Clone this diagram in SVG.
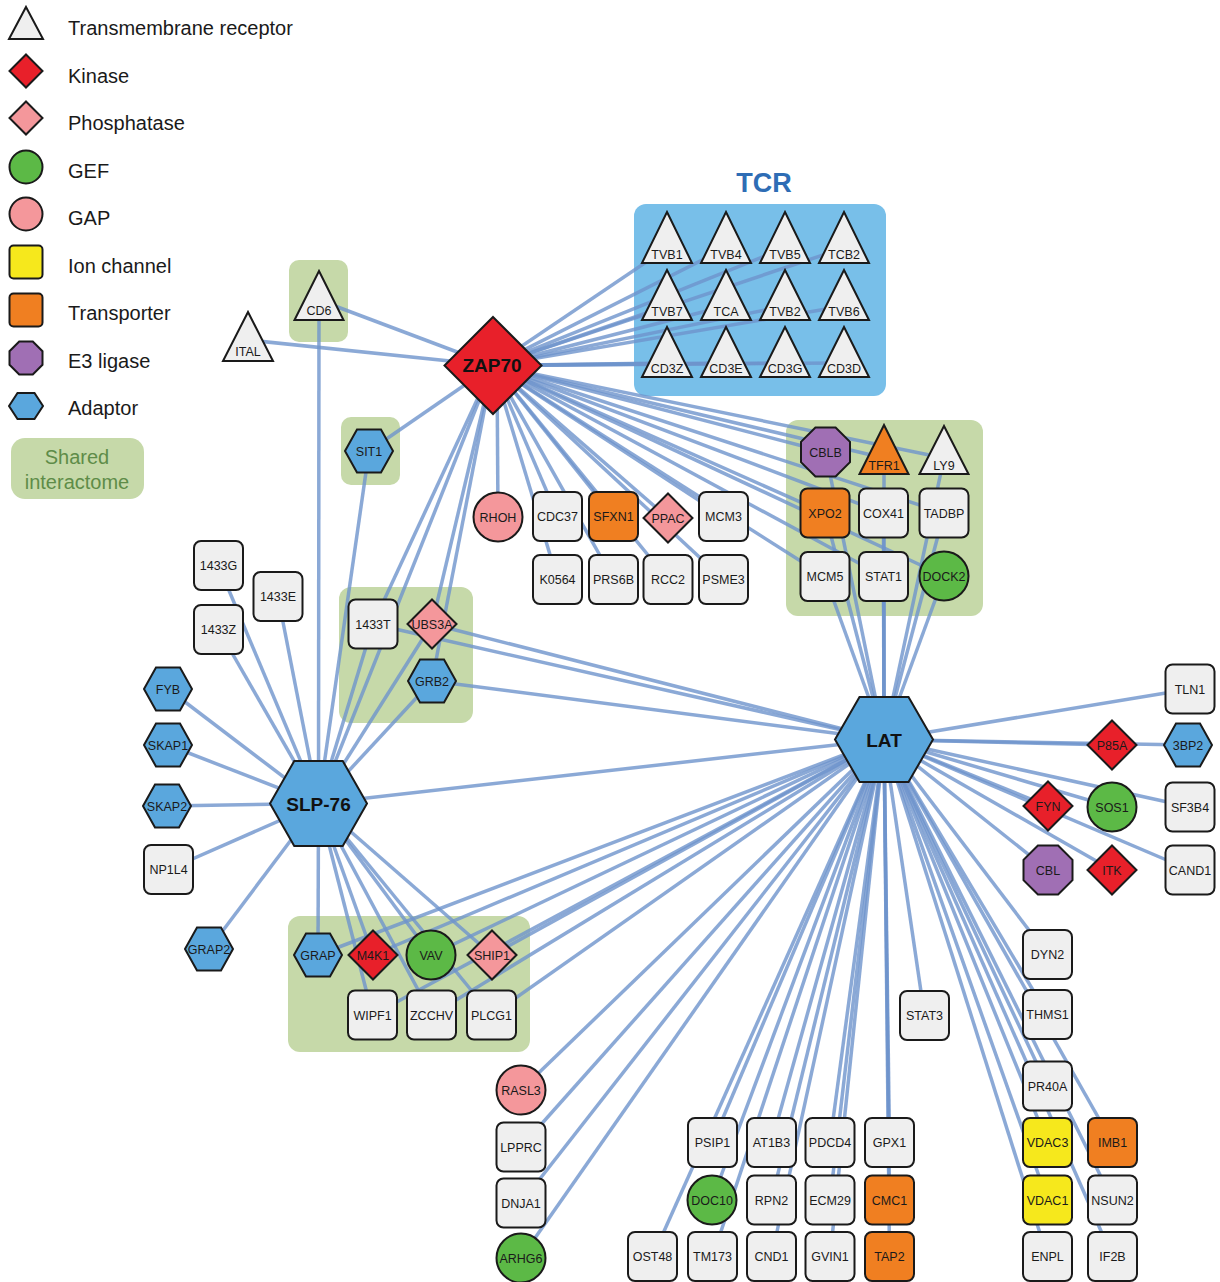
<svg xmlns="http://www.w3.org/2000/svg" width="1220" height="1282" viewBox="0 0 1220 1282">
<style>
.e{stroke:#6e94cc;stroke-width:3.5;stroke-opacity:0.8;fill:none}
.s{stroke:#1a1a1a;stroke-width:2}
.bx{fill:#efefef}
.kin{fill:#e8202a}
.pho{fill:#f4979b}
.gef{fill:#5cb946}
.gap{fill:#f4979b}
.ion{fill:#f6e81c}
.tra{fill:#f07f21}
.e3{fill:#a06fb4}
.ad{fill:#5aa7dd}
.tri{fill:#efefef}
.sh{fill:#c6d9a9}
.t{font-family:"Liberation Sans",Arial,sans-serif;font-size:12.5px;text-anchor:middle;fill:#1a1a1a}
.big{font-family:"Liberation Sans",Arial,sans-serif;font-size:19px;font-weight:bold;text-anchor:middle;fill:#111}
.lg{font-family:"Liberation Sans",Arial,sans-serif;font-size:20px;fill:#1a1a1a}
</style>

<g id="legend">
<polygon class="tri s" points="26,7 43,39 9,39"/>
<text class="lg" x="68" y="35">Transmembrane receptor</text>
<polygon class="kin s" points="26,54.5 42.5,71 26,87.5 9.5,71"/>
<text class="lg" x="68" y="82.5">Kinase</text>
<polygon class="pho s" points="26,101.5 42.5,118 26,134.5 9.5,118"/>
<text class="lg" x="68" y="130">Phosphatase</text>
<circle class="gef s" cx="26" cy="167" r="16.5"/>
<text class="lg" x="68" y="177.5">GEF</text>
<circle class="gap s" cx="26" cy="214" r="16.5"/>
<text class="lg" x="68" y="225">GAP</text>
<rect class="ion s" x="9.5" y="245.5" width="33" height="33" rx="4"/>
<text class="lg" x="68" y="272.5">Ion channel</text>
<rect class="tra s" x="9.5" y="293.5" width="33" height="33" rx="4"/>
<text class="lg" x="68" y="320">Transporter</text>
<polygon class="e3 s" points="19.2,341.5 32.8,341.5 42.5,351.2 42.5,364.8 32.8,374.5 19.2,374.5 9.5,364.8 9.5,351.2"/>
<text class="lg" x="68" y="367.5">E3 ligase</text>
<polygon class="ad s" points="9,406 17.5,393 34.5,393 43,406 34.5,419 17.5,419"/>
<text class="lg" x="68" y="415">Adaptor</text>
<rect class="sh" x="11" y="438" width="133" height="61" rx="14"/>
<text class="lg" x="77" y="464" text-anchor="middle" fill="#5e8c48" style="fill:#5e8c48">Shared</text>
<text class="lg" x="77" y="488.5" text-anchor="middle" style="fill:#5e8c48">interactome</text>
</g>

<g id="backgrounds">
<text x="764" y="192" font-family="Liberation Sans, Arial, sans-serif" font-size="27" font-weight="bold" fill="#2e6db5" text-anchor="middle">TCR</text>
<rect id="tcr-box" x="634" y="204" width="252" height="192" rx="12" fill="#78bfe9"/>
<rect class="sh" x="289" y="260" width="59" height="82" rx="10"/>
<rect class="sh" x="341" y="417" width="59" height="68" rx="10"/>
<rect class="sh" x="339" y="587" width="134" height="136" rx="12"/>
<rect class="sh" x="786" y="420" width="197" height="196" rx="12"/>
<rect class="sh" x="288" y="916" width="242" height="136" rx="12"/>
</g>

<g id="connectors">
<!-- ZAP70 -->
<line class="e" x1="493" y1="365.5" x2="667" y2="248"/>
<line class="e" x1="493" y1="365.5" x2="726" y2="248"/>
<line class="e" x1="493" y1="365.5" x2="785" y2="248"/>
<line class="e" x1="493" y1="365.5" x2="844" y2="248"/>
<line class="e" x1="493" y1="365.5" x2="667" y2="306"/>
<line class="e" x1="493" y1="365.5" x2="726" y2="306"/>
<line class="e" x1="493" y1="365.5" x2="785" y2="306"/>
<line class="e" x1="493" y1="365.5" x2="844" y2="306"/>
<line class="e" x1="493" y1="365.5" x2="667" y2="363"/>
<line class="e" x1="493" y1="365.5" x2="726" y2="363"/>
<line class="e" x1="493" y1="365.5" x2="785" y2="363"/>
<line class="e" x1="493" y1="365.5" x2="844" y2="363"/>
<line class="e" x1="493" y1="365.5" x2="319" y2="300"/>
<line class="e" x1="493" y1="365.5" x2="248" y2="340"/>
<line class="e" x1="493" y1="365.5" x2="369" y2="451"/>
<line class="e" x1="497" y1="365.5" x2="498" y2="517"/>
<line class="e" x1="493" y1="365.5" x2="557.5" y2="516.5"/>
<line class="e" x1="493" y1="365.5" x2="557.5" y2="579.5"/>
<line class="e" x1="493" y1="365.5" x2="613.5" y2="516.5"/>
<line class="e" x1="493" y1="365.5" x2="613.5" y2="579.5"/>
<line class="e" x1="493" y1="365.5" x2="668" y2="518"/>
<line class="e" x1="493" y1="365.5" x2="668" y2="579.5"/>
<line class="e" x1="493" y1="365.5" x2="723.5" y2="516.5"/>
<line class="e" x1="493" y1="365.5" x2="723.5" y2="579.5"/>
<line class="e" x1="493" y1="365.5" x2="825.5" y2="452"/>
<line class="e" x1="493" y1="365.5" x2="884" y2="458"/>
<line class="e" x1="493" y1="365.5" x2="944" y2="458"/>
<line class="e" x1="493" y1="365.5" x2="825" y2="513"/>
<line class="e" x1="493" y1="365.5" x2="883.5" y2="513"/>
<line class="e" x1="493" y1="365.5" x2="944" y2="513"/>
<line class="e" x1="493" y1="365.5" x2="825" y2="576.5"/>
<line class="e" x1="493" y1="365.5" x2="883.5" y2="576.5"/>
<line class="e" x1="493" y1="365.5" x2="944" y2="576"/>
<line class="e" x1="493" y1="365.5" x2="373" y2="624"/>
<line class="e" x1="493" y1="365.5" x2="432" y2="624"/>
<line class="e" x1="493" y1="365.5" x2="432" y2="681"/>
<line class="e" x1="493" y1="365.5" x2="318.5" y2="803.5"/>
<!-- SLP-76 -->
<line class="e" x1="318.5" y1="803.5" x2="319" y2="300"/>
<line class="e" x1="318.5" y1="803.5" x2="369" y2="451"/>
<line class="e" x1="318.5" y1="803.5" x2="218.5" y2="565.5"/>
<line class="e" x1="318.5" y1="803.5" x2="278" y2="596.5"/>
<line class="e" x1="318.5" y1="803.5" x2="218.5" y2="629.5"/>
<line class="e" x1="318.5" y1="803.5" x2="168" y2="689"/>
<line class="e" x1="318.5" y1="803.5" x2="168" y2="745"/>
<line class="e" x1="318.5" y1="803.5" x2="167" y2="806"/>
<line class="e" x1="318.5" y1="803.5" x2="168.5" y2="869.5"/>
<line class="e" x1="318.5" y1="803.5" x2="209" y2="949"/>
<line class="e" x1="318.5" y1="803.5" x2="373" y2="624"/>
<line class="e" x1="318.5" y1="803.5" x2="432" y2="624"/>
<line class="e" x1="318.5" y1="803.5" x2="432" y2="681"/>
<line class="e" x1="318.5" y1="803.5" x2="884" y2="739.5"/>
<line class="e" x1="318.5" y1="803.5" x2="318" y2="955"/>
<line class="e" x1="318.5" y1="803.5" x2="373" y2="955"/>
<line class="e" x1="318.5" y1="803.5" x2="431" y2="955"/>
<line class="e" x1="318.5" y1="803.5" x2="492" y2="955"/>
<line class="e" x1="318.5" y1="803.5" x2="372.5" y2="1015"/>
<line class="e" x1="318.5" y1="803.5" x2="431.5" y2="1015"/>
<line class="e" x1="318.5" y1="803.5" x2="491.5" y2="1015"/>
<!-- LAT -->
<line class="e" x1="884" y1="739.5" x2="825.5" y2="452"/>
<line class="e" x1="884" y1="739.5" x2="884" y2="458"/>
<line class="e" x1="884" y1="739.5" x2="944" y2="458"/>
<line class="e" x1="884" y1="739.5" x2="825" y2="513"/>
<line class="e" x1="884" y1="739.5" x2="883.5" y2="513"/>
<line class="e" x1="884" y1="739.5" x2="944" y2="513"/>
<line class="e" x1="884" y1="739.5" x2="825" y2="576.5"/>
<line class="e" x1="884" y1="739.5" x2="883.5" y2="576.5"/>
<line class="e" x1="884" y1="739.5" x2="944" y2="576"/>
<line class="e" x1="884" y1="739.5" x2="373" y2="624"/>
<line class="e" x1="884" y1="739.5" x2="432" y2="624"/>
<line class="e" x1="884" y1="739.5" x2="432" y2="681"/>
<line class="e" x1="884" y1="739.5" x2="318" y2="955"/>
<line class="e" x1="884" y1="739.5" x2="373" y2="955"/>
<line class="e" x1="884" y1="739.5" x2="431" y2="955"/>
<line class="e" x1="884" y1="739.5" x2="492" y2="955"/>
<line class="e" x1="884" y1="739.5" x2="372.5" y2="1015"/>
<line class="e" x1="884" y1="739.5" x2="431.5" y2="1015"/>
<line class="e" x1="884" y1="739.5" x2="491.5" y2="1015"/>
<line class="e" x1="884" y1="739.5" x2="521" y2="1090"/>
<line class="e" x1="884" y1="739.5" x2="521" y2="1147"/>
<line class="e" x1="884" y1="739.5" x2="521" y2="1203"/>
<line class="e" x1="884" y1="739.5" x2="521" y2="1258"/>
<line class="e" x1="884" y1="739.5" x2="652.5" y2="1257"/>
<line class="e" x1="884" y1="739.5" x2="712.5" y2="1142.5"/>
<line class="e" x1="884" y1="739.5" x2="712" y2="1200"/>
<line class="e" x1="884" y1="739.5" x2="712.5" y2="1257"/>
<line class="e" x1="884" y1="739.5" x2="771.5" y2="1142.5"/>
<line class="e" x1="884" y1="739.5" x2="771.5" y2="1200"/>
<line class="e" x1="884" y1="739.5" x2="771.5" y2="1257"/>
<line class="e" x1="884" y1="739.5" x2="830" y2="1142.5"/>
<line class="e" x1="884" y1="739.5" x2="830" y2="1200"/>
<line class="e" x1="884" y1="739.5" x2="830" y2="1257"/>
<line class="e" x1="884" y1="739.5" x2="889.5" y2="1142.5"/>
<line class="e" x1="884" y1="739.5" x2="889.5" y2="1200"/>
<line class="e" x1="884" y1="739.5" x2="889.5" y2="1257"/>
<line class="e" x1="884" y1="739.5" x2="924.5" y2="1015.5"/>
<line class="e" x1="884" y1="739.5" x2="1047.5" y2="954.5"/>
<line class="e" x1="884" y1="739.5" x2="1047.5" y2="1014.5"/>
<line class="e" x1="884" y1="739.5" x2="1047.5" y2="1086"/>
<line class="e" x1="884" y1="739.5" x2="1047.5" y2="1142.5"/>
<line class="e" x1="884" y1="739.5" x2="1047.5" y2="1200"/>
<line class="e" x1="884" y1="739.5" x2="1047.5" y2="1257"/>
<line class="e" x1="884" y1="739.5" x2="1112.5" y2="1142.5"/>
<line class="e" x1="884" y1="739.5" x2="1112.5" y2="1200"/>
<line class="e" x1="884" y1="739.5" x2="1112.5" y2="1257"/>
<line class="e" x1="884" y1="739.5" x2="1190" y2="689"/>
<line class="e" x1="884" y1="739.5" x2="1112" y2="745"/>
<line class="e" x1="884" y1="739.5" x2="1188" y2="745"/>
<line class="e" x1="884" y1="739.5" x2="1048" y2="806"/>
<line class="e" x1="884" y1="739.5" x2="1112" y2="807"/>
<line class="e" x1="884" y1="739.5" x2="1190" y2="807"/>
<line class="e" x1="884" y1="739.5" x2="1048" y2="870"/>
<line class="e" x1="884" y1="739.5" x2="1112" y2="870"/>
<line class="e" x1="884" y1="739.5" x2="1190" y2="870"/>
</g>

<g id="tcr-nodes">
<g id="n-TVB1"><polygon class="tri s" points="667,212 692,263 642,263"/><text class="t" x="667" y="259">TVB1</text></g>
<g id="n-TVB4"><polygon class="tri s" points="726,212 751,263 701,263"/><text class="t" x="726" y="259">TVB4</text></g>
<g id="n-TVB5"><polygon class="tri s" points="785,212 810,263 760,263"/><text class="t" x="785" y="259">TVB5</text></g>
<g id="n-TCB2"><polygon class="tri s" points="844,212 869,263 819,263"/><text class="t" x="844" y="259">TCB2</text></g>
<g id="n-TVB7"><polygon class="tri s" points="667,270 692,320 642,320"/><text class="t" x="667" y="316">TVB7</text></g>
<g id="n-TCA"><polygon class="tri s" points="726,270 751,320 701,320"/><text class="t" x="726" y="316">TCA</text></g>
<g id="n-TVB2"><polygon class="tri s" points="785,270 810,320 760,320"/><text class="t" x="785" y="316">TVB2</text></g>
<g id="n-TVB6"><polygon class="tri s" points="844,270 869,320 819,320"/><text class="t" x="844" y="316">TVB6</text></g>
<g id="n-CD3Z"><polygon class="tri s" points="667,327 692,377 642,377"/><text class="t" x="667" y="373">CD3Z</text></g>
<g id="n-CD3E"><polygon class="tri s" points="726,327 751,377 701,377"/><text class="t" x="726" y="373">CD3E</text></g>
<g id="n-CD3G"><polygon class="tri s" points="785,327 810,377 760,377"/><text class="t" x="785" y="373">CD3G</text></g>
<g id="n-CD3D"><polygon class="tri s" points="844,327 869,377 819,377"/><text class="t" x="844" y="373">CD3D</text></g>
</g>

<g id="nodes">
<g id="n-CD6"><polygon class="tri s" points="319,271 343.5,320 294.5,320"/><text class="t" x="319" y="315">CD6</text></g>
<g id="n-ITAL"><polygon class="tri s" points="248,312 273,361 223,361"/><text class="t" x="248" y="356">ITAL</text></g>
<g id="n-SIT1"><polygon class="ad s" points="345,451 357,429.5 381,429.5 393,451 381,472.5 357,472.5"/><text class="t" x="369" y="455.5">SIT1</text></g>
<g id="n-ZAP70"><polygon class="kin s" points="493,317 541.5,365.5 493,414 444.5,365.5"/><text class="big" x="492" y="372">ZAP70</text></g>

<g id="n-RHOH"><circle class="gap s" cx="498" cy="517" r="24.5"/><text class="t" x="498" y="521.5">RHOH</text></g>
<g id="n-CDC37"><rect class="bx s" x="533" y="492" width="49" height="49" rx="7"/><text class="t" x="557.5" y="521">CDC37</text></g>
<g id="n-SFXN1"><rect class="tra s" x="589" y="492" width="49" height="49" rx="7"/><text class="t" x="613.5" y="521">SFXN1</text></g>
<g id="n-PPAC"><polygon class="pho s" points="668,493.5 692.5,518 668,542.5 643.5,518"/><text class="t" x="668" y="522.5">PPAC</text></g>
<g id="n-MCM3"><rect class="bx s" x="699" y="492" width="49" height="49" rx="7"/><text class="t" x="723.5" y="521">MCM3</text></g>
<g id="n-K0564"><rect class="bx s" x="533" y="555" width="49" height="49" rx="7"/><text class="t" x="557.5" y="584">K0564</text></g>
<g id="n-PRS6B"><rect class="bx s" x="589" y="555" width="49" height="49" rx="7"/><text class="t" x="613.5" y="584">PRS6B</text></g>
<g id="n-RCC2"><rect class="bx s" x="643.5" y="555" width="49" height="49" rx="7"/><text class="t" x="668" y="584">RCC2</text></g>
<g id="n-PSME3"><rect class="bx s" x="699" y="555" width="49" height="49" rx="7"/><text class="t" x="723.5" y="584">PSME3</text></g>

<g id="n-CBLB"><polygon class="e3 s" points="815.4,427.5 835.6,427.5 850,441.9 850,462.1 835.6,476.5 815.4,476.5 801,462.1 801,441.9"/><text class="t" x="825.5" y="456.5">CBLB</text></g>
<g id="n-TFR1"><polygon class="tra s" points="884,425 908.5,474 859.5,474"/><text class="t" x="884" y="470">TFR1</text></g>
<g id="n-LY9"><polygon class="tri s" points="944,426 968.5,474 919.5,474"/><text class="t" x="944" y="470">LY9</text></g>
<g id="n-XPO2"><rect class="tra s" x="800.5" y="488.5" width="49" height="49" rx="7"/><text class="t" x="825" y="517.5">XPO2</text></g>
<g id="n-COX41"><rect class="bx s" x="859" y="488.5" width="49" height="49" rx="7"/><text class="t" x="883.5" y="517.5">COX41</text></g>
<g id="n-TADBP"><rect class="bx s" x="919.5" y="488.5" width="49" height="49" rx="7"/><text class="t" x="944" y="517.5">TADBP</text></g>
<g id="n-MCM5"><rect class="bx s" x="800.5" y="552" width="49" height="49" rx="7"/><text class="t" x="825" y="581">MCM5</text></g>
<g id="n-STAT1"><rect class="bx s" x="859" y="552" width="49" height="49" rx="7"/><text class="t" x="883.5" y="581">STAT1</text></g>
<g id="n-DOCK2"><circle class="gef s" cx="944" cy="576" r="24.5"/><text class="t" x="944" y="580.5">DOCK2</text></g>

<g id="n-1433G"><rect class="bx s" x="194" y="541" width="49" height="49" rx="7"/><text class="t" x="218.5" y="570">1433G</text></g>
<g id="n-1433E"><rect class="bx s" x="253.5" y="572" width="49" height="49" rx="7"/><text class="t" x="278" y="601">1433E</text></g>
<g id="n-1433Z"><rect class="bx s" x="194" y="605" width="49" height="49" rx="7"/><text class="t" x="218.5" y="634">1433Z</text></g>
<g id="n-1433T"><rect class="bx s" x="348.5" y="599.5" width="49" height="49" rx="7"/><text class="t" x="373" y="628.5">1433T</text></g>
<g id="n-UBS3A"><polygon class="pho s" points="432,599.5 456.5,624 432,648.5 407.5,624"/><text class="t" x="432" y="628.5">UBS3A</text></g>
<g id="n-GRB2"><polygon class="ad s" points="408,681 420,659.5 444,659.5 456,681 444,702.5 420,702.5"/><text class="t" x="432" y="685.5">GRB2</text></g>
<g id="n-FYB"><polygon class="ad s" points="144,689 156,667.5 180,667.5 192,689 180,710.5 156,710.5"/><text class="t" x="168" y="693.5">FYB</text></g>
<g id="n-SKAP1"><polygon class="ad s" points="144,745 156,723.5 180,723.5 192,745 180,766.5 156,766.5"/><text class="t" x="168" y="749.5">SKAP1</text></g>
<g id="n-SKAP2"><polygon class="ad s" points="143,806 155,784.5 179,784.5 191,806 179,827.5 155,827.5"/><text class="t" x="167" y="810.5">SKAP2</text></g>
<g id="n-NP1L4"><rect class="bx s" x="144" y="845" width="49" height="49" rx="7"/><text class="t" x="168.5" y="874">NP1L4</text></g>
<g id="n-GRAP2"><polygon class="ad s" points="185,949 197,927.5 221,927.5 233,949 221,970.5 197,970.5"/><text class="t" x="209" y="953.5">GRAP2</text></g>
<g id="n-SLP76"><polygon class="ad s" points="270,803.5 294.25,761 342.75,761 367,803.5 342.75,846 294.25,846"/><text class="big" x="318.5" y="810.5">SLP-76</text></g>

<g id="n-GRAP"><polygon class="ad s" points="294,955 306,933.5 330,933.5 342,955 330,976.5 306,976.5"/><text class="t" x="318" y="959.5">GRAP</text></g>
<g id="n-M4K1"><polygon class="kin s" points="373,930.5 397.5,955 373,979.5 348.5,955"/><text class="t" x="373" y="959.5">M4K1</text></g>
<g id="n-VAV"><circle class="gef s" cx="431" cy="955" r="24.5"/><text class="t" x="431" y="959.5">VAV</text></g>
<g id="n-SHIP1"><polygon class="pho s" points="492,930.5 516.5,955 492,979.5 467.5,955"/><text class="t" x="492" y="959.5">SHIP1</text></g>
<g id="n-WIPF1"><rect class="bx s" x="348" y="990.5" width="49" height="49" rx="7"/><text class="t" x="372.5" y="1019.5">WIPF1</text></g>
<g id="n-ZCCHV"><rect class="bx s" x="407" y="990.5" width="49" height="49" rx="7"/><text class="t" x="431.5" y="1019.5">ZCCHV</text></g>
<g id="n-PLCG1"><rect class="bx s" x="467" y="990.5" width="49" height="49" rx="7"/><text class="t" x="491.5" y="1019.5">PLCG1</text></g>
<g id="n-RASL3"><circle class="gap s" cx="521" cy="1090" r="24.5"/><text class="t" x="521" y="1094.5">RASL3</text></g>
<g id="n-LPPRC"><rect class="bx s" x="496.5" y="1122.5" width="49" height="49" rx="7"/><text class="t" x="521" y="1151.5">LPPRC</text></g>
<g id="n-DNJA1"><rect class="bx s" x="496.5" y="1178.5" width="49" height="49" rx="7"/><text class="t" x="521" y="1207.5">DNJA1</text></g>
<g id="n-ARHG6"><circle class="gef s" cx="521" cy="1258" r="24.5"/><text class="t" x="521" y="1262.5">ARHG6</text></g>

<g id="n-LAT"><polygon class="ad s" points="835,739.5 859.5,697 908.5,697 933,739.5 908.5,782 859.5,782"/><text class="big" x="884" y="746.5">LAT</text></g>

<g id="n-TLN1"><rect class="bx s" x="1165.5" y="664.5" width="49" height="49" rx="7"/><text class="t" x="1190" y="693.5">TLN1</text></g>
<g id="n-P85A"><polygon class="kin s" points="1112,720.5 1136.5,745 1112,769.5 1087.5,745"/><text class="t" x="1112" y="749.5">P85A</text></g>
<g id="n-3BP2"><polygon class="ad s" points="1164,745 1176,723.5 1200,723.5 1212,745 1200,766.5 1176,766.5"/><text class="t" x="1188" y="749.5">3BP2</text></g>
<g id="n-FYN"><polygon class="kin s" points="1048,781.5 1072.5,806 1048,830.5 1023.5,806"/><text class="t" x="1048" y="810.5">FYN</text></g>
<g id="n-SOS1"><circle class="gef s" cx="1112" cy="807" r="24.5"/><text class="t" x="1112" y="811.5">SOS1</text></g>
<g id="n-SF3B4"><rect class="bx s" x="1165.5" y="782.5" width="49" height="49" rx="7"/><text class="t" x="1190" y="811.5">SF3B4</text></g>
<g id="n-CBL"><polygon class="e3 s" points="1037.9,845.5 1058.1,845.5 1072.5,859.9 1072.5,880.1 1058.1,894.5 1037.9,894.5 1023.5,880.1 1023.5,859.9"/><text class="t" x="1048" y="874.5">CBL</text></g>
<g id="n-ITK"><polygon class="kin s" points="1112,845.5 1136.5,870 1112,894.5 1087.5,870"/><text class="t" x="1112" y="874.5">ITK</text></g>
<g id="n-CAND1"><rect class="bx s" x="1165.5" y="845.5" width="49" height="49" rx="7"/><text class="t" x="1190" y="874.5">CAND1</text></g>

<g id="n-STAT3"><rect class="bx s" x="900" y="991" width="49" height="49" rx="7"/><text class="t" x="924.5" y="1020">STAT3</text></g>

<g id="n-PSIP1"><rect class="bx s" x="688" y="1118" width="49" height="49" rx="7"/><text class="t" x="712.5" y="1147">PSIP1</text></g>
<g id="n-AT1B3"><rect class="bx s" x="747" y="1118" width="49" height="49" rx="7"/><text class="t" x="771.5" y="1147">AT1B3</text></g>
<g id="n-PDCD4"><rect class="bx s" x="805.5" y="1118" width="49" height="49" rx="7"/><text class="t" x="830" y="1147">PDCD4</text></g>
<g id="n-GPX1"><rect class="bx s" x="865" y="1118" width="49" height="49" rx="7"/><text class="t" x="889.5" y="1147">GPX1</text></g>
<g id="n-DOC10"><circle class="gef s" cx="712" cy="1200" r="24.5"/><text class="t" x="712" y="1204.5">DOC10</text></g>
<g id="n-RPN2"><rect class="bx s" x="747" y="1175.5" width="49" height="49" rx="7"/><text class="t" x="771.5" y="1204.5">RPN2</text></g>
<g id="n-ECM29"><rect class="bx s" x="805.5" y="1175.5" width="49" height="49" rx="7"/><text class="t" x="830" y="1204.5">ECM29</text></g>
<g id="n-CMC1"><rect class="tra s" x="865" y="1175.5" width="49" height="49" rx="7"/><text class="t" x="889.5" y="1204.5">CMC1</text></g>
<g id="n-OST48"><rect class="bx s" x="628" y="1232" width="49" height="49" rx="7"/><text class="t" x="652.5" y="1261">OST48</text></g>
<g id="n-TM173"><rect class="bx s" x="688" y="1232" width="49" height="49" rx="7"/><text class="t" x="712.5" y="1261">TM173</text></g>
<g id="n-CND1"><rect class="bx s" x="747" y="1232" width="49" height="49" rx="7"/><text class="t" x="771.5" y="1261">CND1</text></g>
<g id="n-GVIN1"><rect class="bx s" x="805.5" y="1232" width="49" height="49" rx="7"/><text class="t" x="830" y="1261">GVIN1</text></g>
<g id="n-TAP2"><rect class="tra s" x="865" y="1232" width="49" height="49" rx="7"/><text class="t" x="889.5" y="1261">TAP2</text></g>

<g id="n-DYN2"><rect class="bx s" x="1023" y="930" width="49" height="49" rx="7"/><text class="t" x="1047.5" y="959">DYN2</text></g>
<g id="n-THMS1"><rect class="bx s" x="1023" y="990" width="49" height="49" rx="7"/><text class="t" x="1047.5" y="1019">THMS1</text></g>
<g id="n-PR40A"><rect class="bx s" x="1023" y="1061.5" width="49" height="49" rx="7"/><text class="t" x="1047.5" y="1090.5">PR40A</text></g>
<g id="n-VDAC3"><rect class="ion s" x="1023" y="1118" width="49" height="49" rx="7"/><text class="t" x="1047.5" y="1147">VDAC3</text></g>
<g id="n-IMB1"><rect class="tra s" x="1088" y="1118" width="49" height="49" rx="7"/><text class="t" x="1112.5" y="1147">IMB1</text></g>
<g id="n-VDAC1"><rect class="ion s" x="1023" y="1175.5" width="49" height="49" rx="7"/><text class="t" x="1047.5" y="1204.5">VDAC1</text></g>
<g id="n-NSUN2"><rect class="bx s" x="1088" y="1175.5" width="49" height="49" rx="7"/><text class="t" x="1112.5" y="1204.5">NSUN2</text></g>
<g id="n-ENPL"><rect class="bx s" x="1023" y="1232" width="49" height="49" rx="7"/><text class="t" x="1047.5" y="1261">ENPL</text></g>
<g id="n-IF2B"><rect class="bx s" x="1088" y="1232" width="49" height="49" rx="7"/><text class="t" x="1112.5" y="1261">IF2B</text></g>
</g>
</svg>
